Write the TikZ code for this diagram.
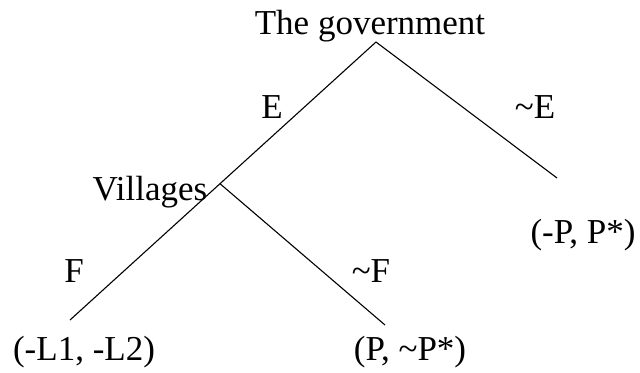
\documentclass[tikz,border=0pt]{standalone}
\usepackage{fontspec}
\setmainfont{Liberation Serif}
\begin{document}
\begin{tikzpicture}[x=1bp,y=-1bp,
  lbl/.style={inner sep=0pt,anchor=base,font=\fontsize{35bp}{42bp}\selectfont},
  branch/.style={draw=black,line width=1.1bp}]
\useasboundingbox (0,0) rectangle (640,372);
% branch points
\coordinate (root) at (376,42);
\coordinate (vil) at (220,183.7);
\coordinate (ll) at (70,320);
\coordinate (lr) at (385,325);
\coordinate (r) at (557,178);
% labels
\node[lbl] (gov) at (370,34) {The government};
\node[lbl] (e) at (272,118) {E};
\node[lbl] (ne) at (535,118) {\textasciitilde E};
\node[lbl] (villages) at (150,200) {Villages};
\node[lbl] (f) at (74,282) {F};
\node[lbl] (nf) at (371,282) {\textasciitilde F};
\node[lbl] (p1) at (84,360) {(-L1, -L2)};
\node[lbl] (p2) at (410,360) {(P, \textasciitilde P*)};
\node[lbl] (p3) at (583,243) {(-P, P*)};
% branches
\draw[branch] (root) -- (vil) -- (ll);
\draw[branch] (vil) -- (lr);
\draw[branch] (root) -- (r);
\end{tikzpicture}
\end{document}
